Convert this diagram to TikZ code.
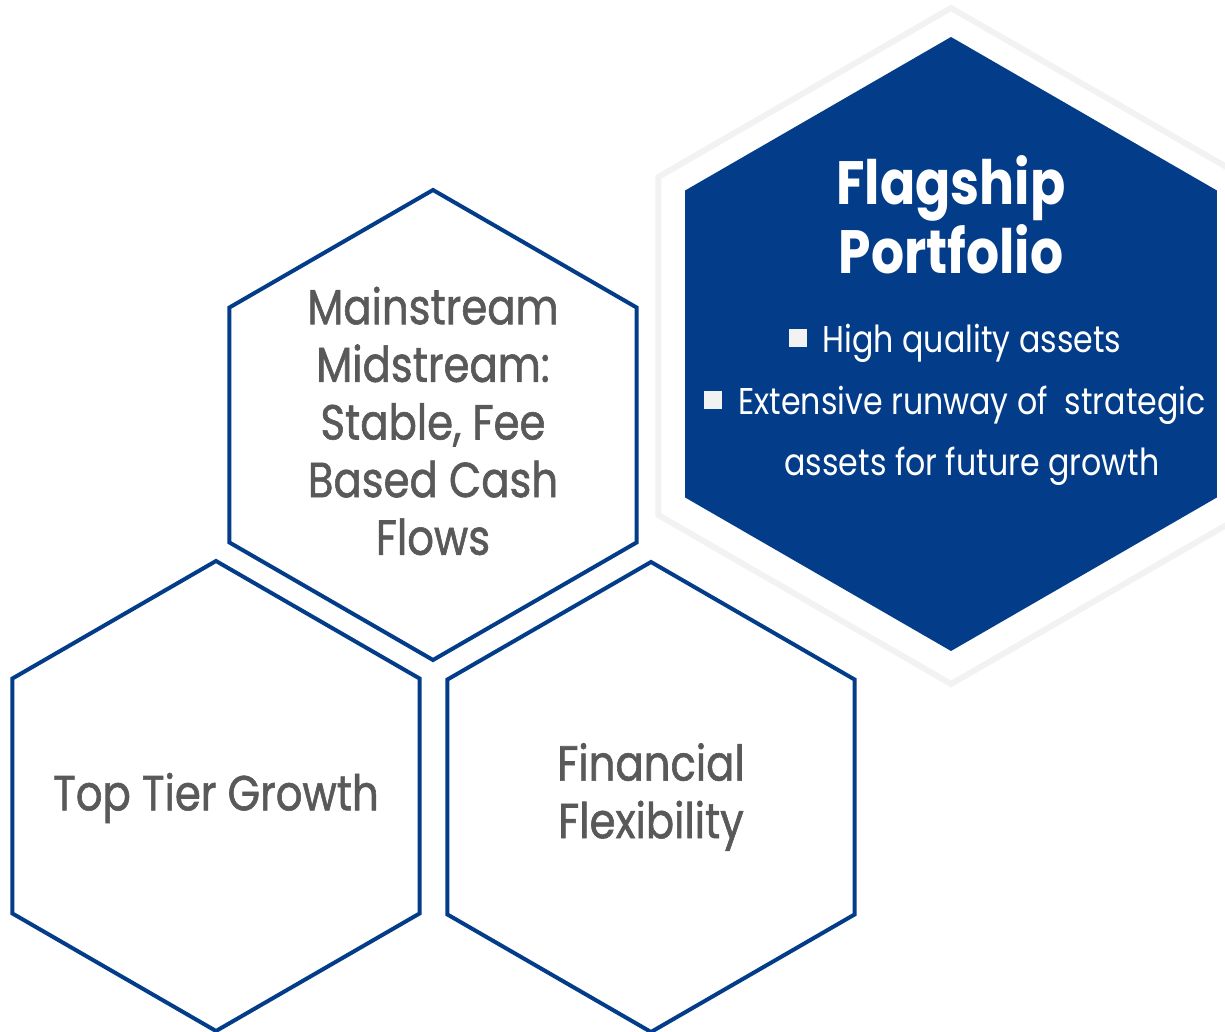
\documentclass[tikz,border=0pt]{standalone}
\usepackage{fontspec}
\setmainfont{Poppins}[FakeStretch=0.85]
\newfontfamily\hexfont{Poppins}[FakeStretch=0.85, FakeBold=1.2]
\usetikzlibrary{shapes.geometric}
\definecolor{flagblue}{RGB}{3, 60, 137}
\definecolor{textgray}{RGB}{89, 89, 89}
\definecolor{halogray}{RGB}{242, 242, 242}
\newcommand{\sqbullet}{\raisebox{0.05cm}{\textcolor{halogray}{\rule{0.18cm}{0.18cm}}}\hspace{0.16cm}}

\begin{document}
\begin{tikzpicture}[
  hexbox/.style={regular polygon, regular polygon sides=6, shape border rotate=30, inner sep=0pt, outer sep=0pt, minimum size=4.70cm, draw=flagblue, line width=0.04cm},
  hextext/.style={align=center, text=textgray, font=\hexfont\fontsize{14}{16.4}\selectfont}
]
  \useasboundingbox (0, 0) rectangle (12.25, 10.31);

  % Flagship hexagon with its pale halo
  \node[regular polygon, regular polygon sides=6, shape border rotate=30, inner sep=0pt, minimum size=6.76cm, draw=halogray, line width=0.06cm] (halo) at (9.51, 6.85) {};
  \node[regular polygon, regular polygon sides=6, shape border rotate=30, inner sep=0pt, minimum size=6.14cm, fill=flagblue] (flag) at (9.51, 6.87) {};
  \node[align=center, text=white, font=\bfseries\fontsize{17.4}{16.4}\selectfont] (flagtitle) at (9.51, 8.16) {Flagship\\Portfolio};
  \node[align=center, text=white, font=\fontsize{10.6}{17.6}\selectfont] (flagbullets) at (9.55, 6.26)
    {\sqbullet High quality assets\\ \sqbullet Extensive runway of\ \ strategic\\ \phantom{\sqbullet}assets for future growth};

  % Outlined hexagons
  \node[hexbox] (mainhex) at (4.33, 6.06) {};
  \node[hextext] (maintext) at (4.33, 6.10) {Mainstream\\Midstream:\\Stable, Fee\\Based Cash\\Flows};

  \node[hexbox] (growhex) at (2.16, 2.35) {};
  \node[hextext] (growtext) at (2.16, 2.33) {Top Tier Growth};

  \node[hexbox] (finhex) at (6.51, 2.34) {};
  \node[hextext] (fintext) at (6.51, 2.34) {Financial\\Flexibility};
\end{tikzpicture}
\end{document}
